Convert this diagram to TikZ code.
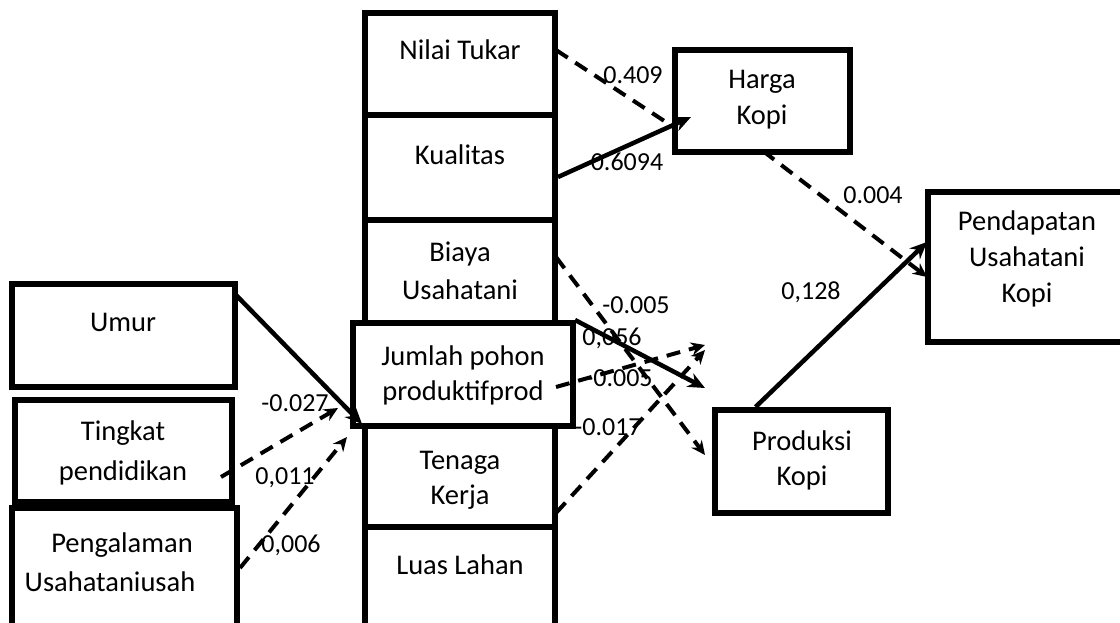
\documentclass[tikz,border=0pt]{standalone}
\usepackage{fontspec}
\setmainfont{Carlito}
\usetikzlibrary{arrows.meta}
\begin{document}
\begin{tikzpicture}[x=1pt,y=-1pt,
  box/.style={draw,line width=6pt,rectangle,inner sep=0pt,fill=white},
  txt/.style={font=\fontsize{28.5}{36}\selectfont,align=center,inner sep=0pt},
  lbl/.style={font=\fontsize{26}{30}\selectfont,inner sep=0pt},
  solidarrow/.style={line width=4.5pt,-{Stealth[length=17pt,width=15pt]}},
  dasharrow/.style={line width=4pt,dash pattern=on 14pt off 9pt,-{Stealth[length=14pt,width=13pt]}},
  dashline/.style={line width=4pt,dash pattern=on 14pt off 9pt}]
\useasboundingbox (0,0) rectangle (1120,622);
\clip (0,0) rectangle (1120,622);
% boxes
\node[box,minimum width=223pt,minimum height=103pt] (umur) at (123.5,335.5) {};
\node[box,minimum width=217pt,minimum height=102pt] (tingkat) at (123.5,451) {};
\node[box,minimum width=225pt,minimum height=152pt] (peng) at (124.5,584) {};
\node[box,minimum width=190pt,minimum height=102pt] (nilai) at (460,64) {};
\node[box,minimum width=190pt,minimum height=105pt] (kual) at (460,167.5) {};
\node[box,minimum width=190pt,minimum height=103pt] (biaya) at (460,271.5) {};
\node[box,minimum width=190pt,minimum height=101pt] (tenaga) at (460,476.5) {};
\node[box,minimum width=190pt,minimum height=133pt] (luas) at (460,593.5) {};
\node[box,minimum width=220pt,minimum height=103pt] (jumlah) at (463,374.5) {};
\node[box,minimum width=175pt,minimum height=102pt] (harga) at (762.5,101) {};
\node[box,minimum width=212pt,minimum height=150pt] (pend) at (1034,267) {};
\node[box,minimum width=173pt,minimum height=103pt] (prod) at (801.5,461.5) {};
% texts
\node[txt] (tumur) at (123,322) {Umur};
\node[txt,font=\fontsize{28.5}{40}\selectfont] (ttingkat) at (123,453) {Tingkat\\pendidikan};
\node[txt] (tpeng1) at (122,545) {Pengalaman};
\node[txt] (tpeng2) at (110,582) {Usahataniusah};
\node[txt] (tnilai) at (460,50) {Nilai Tukar};
\node[txt] (tkual) at (460,155) {Kualitas};
\node[txt,font=\fontsize{28.5}{38}\selectfont] (tbiaya) at (460,271) {Biaya\\Usahatani};
\node[txt,font=\fontsize{28.5}{35}\selectfont] (tjumlah) at (463,375) {Jumlah pohon\\produktifprod};
\node[txt,font=\fontsize{28.5}{35}\selectfont] (ttenaga) at (460,480) {Tenaga\\Kerja};
\node[txt] (tluas) at (460,565) {Luas Lahan};
\node[txt] (tharga) at (762,100) {Harga\\Kopi};
\node[txt] (tpend) at (1027,259) {Pendapatan\\Usahatani\\Kopi};
\node[txt,font=\fontsize{28.5}{35}\selectfont] (tprod) at (802,460) {Produksi\\Kopi};
% connector end points
\coordinate (eumur) at (362,424);
\coordinate (etingkat) at (338,408);
\coordinate (epeng) at (347,437);
\coordinate (ekual) at (691,117);
\coordinate (enilai) at (675,128);
\coordinate (eharga) at (927,277);
\coordinate (eprod) at (927,242);
\coordinate (ebiaya) at (705,455);
\coordinate (ejum1) at (705,388);
\coordinate (ejum2) at (705,345);
\coordinate (eten) at (705,350);
% connectors
\draw[solidarrow] (umur.north east)++(-3,13) -- (eumur);
\draw[dasharrow] (tingkat.east)++(-14,26) -- (etingkat);
\draw[dasharrow] (peng.east)++(0,-16) -- (epeng);
\draw[dashline] (nilai.east)++(-2,-14) -- (enilai);
\draw[solidarrow] (kual.east)++(0,9.5) -- (ekual);
\draw[dasharrow] (harga.south)++(0.5,-4) -- (eharga);
\draw[solidarrow] (prod.north)++(-46,0) -- (eprod);
\draw[dasharrow] (biaya.east)++(-2,-14.5) -- (ebiaya);
\draw[solidarrow] (jumlah.north east)++(-1,0) -- (ejum1);
\draw[dasharrow] (jumlah.east)++(-20,12.5) -- (ejum2);
\draw[dasharrow] (tenaga.east)++(-2,36.5) -- (eten);
% labels
\node[lbl] (l1) at (295,403) {-0.027};
\node[lbl] (l2) at (285,478) {0,011};
\node[lbl] (l3) at (291,545) {0,006};
\node[lbl] (l4) at (633,75) {0.409};
\node[lbl] (l5) at (627,162) {0.6094};
\node[lbl] (l6) at (873,195) {0.004};
\node[lbl] (l7) at (811,292) {0,128};
\node[lbl] (l8) at (636,305) {-0.005};
\node[lbl] (l9) at (612,338) {0,056};
\node[lbl] (l10) at (619,378) {-0.005};
\node[lbl] (l11) at (608,427) {-0.017};
\end{tikzpicture}
\end{document}
